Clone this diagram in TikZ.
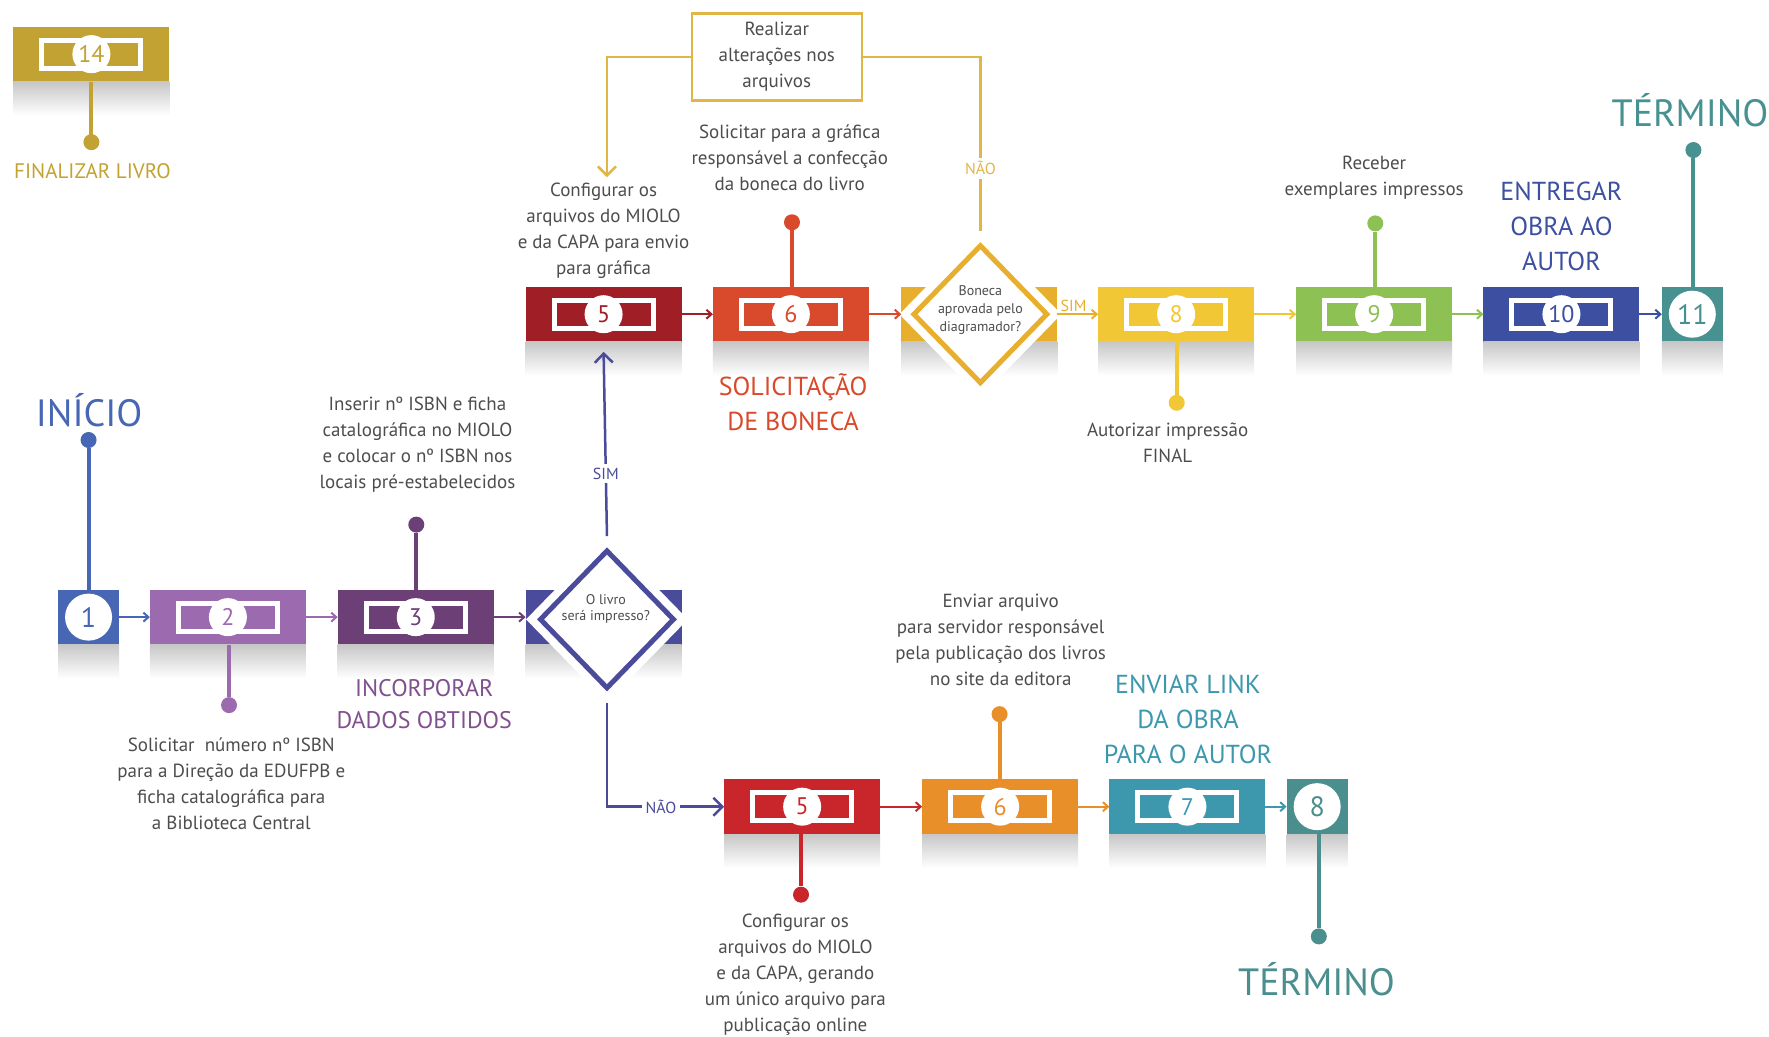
\documentclass[tikz,border=0pt]{standalone}
\usepackage{fontspec}
\setmainfont{PT Sans}
\usetikzlibrary{shapes.geometric,arrows.meta,calc}
\definecolor{cfive}{HTML}{A01E25}
\definecolor{csix}{HTML}{D9492B}
\definecolor{cdtwo}{HTML}{E8AF2E}
\definecolor{ceight}{HTML}{F2C736}
\definecolor{cnine}{HTML}{8DC153}
\definecolor{cten}{HTML}{3D4FA1}
\definecolor{celeven}{HTML}{489191}
\definecolor{cone}{HTML}{4766B3}
\definecolor{ctwo}{HTML}{9C6AAF}
\definecolor{cthree}{HTML}{6D3F77}
\definecolor{cdone}{HTML}{4A4B9B}
\definecolor{cfivel}{HTML}{C9262C}
\definecolor{csixl}{HTML}{E88F2A}
\definecolor{csevenl}{HTML}{3D98AD}
\definecolor{ceightl}{HTML}{4B8E8E}
\definecolor{cfourteen}{HTML}{C2A232}
\definecolor{cgold}{HTML}{E2B646}
\definecolor{ctxt}{HTML}{4D4D4D}
\definecolor{cincorp}{HTML}{80508F}
\newcommand\stepbox[4]{%
  \node[stepnode, fill=#3] (#1) at (#2) {};
  \shade[top color=black!22, bottom color=white] (#1.south west) rectangle ($(#1.south east)+(0,30)$);
  \node[inrect] at (#1) {};
  \node[numc, text=#3] at (#1) {#4};
}
\newcommand\sqbox[4]{%
  \node[sqnode, fill=#3] (#1) at (#2) {};
  \shade[top color=black!22, bottom color=white] (#1.south west) rectangle ($(#1.south east)+(0,30)$);
  \node[bignumc, text=#3] at (#1) {#4};
}
\newcommand\decision[4]{%
  \node[stepnode, fill=#4] (#1box) at (#2) {};
  \shade[top color=black!22, bottom color=white] (#1box.south west) rectangle ($(#1box.south east)+(0,30)$);
  \node[diamond, fill=white, minimum width=162pt, minimum height=166pt, inner sep=0] (#1) at (#3) {};
  \node[diamond, draw=#4, line width=5pt, minimum width=135pt, minimum height=139pt, inner sep=0] at (#3) {};
}
\begin{document}
\begin{tikzpicture}[x=1.1282pt,y=-1.1282pt,
  stepnode/.style={rectangle, minimum width=156pt, minimum height=55pt, inner sep=0, outer sep=0},
  sqnode/.style={rectangle, minimum width=61pt, minimum height=55pt, inner sep=0, outer sep=0},
  inrect/.style={draw=white, line width=5pt, minimum width=99pt, minimum height=28pt, inner sep=0},
  numc/.style={circle, fill=white, minimum size=38pt, inner sep=0, font=\fontsize{24}{24}\selectfont},
  bignumc/.style={circle, fill=white, minimum size=47pt, inner sep=0, font=\fontsize{28}{28}\selectfont},
  stemdot/.style={circle, minimum size=16pt, inner sep=0},
  stem/.style={line width=4pt},
  flow/.style={line width=2pt, -{Straight Barb[length=5pt,width=9pt]}},
  bigflow/.style={line width=2.5pt, -{Straight Barb[length=9pt,width=18pt]}},
  body/.style={text=ctxt, align=center, font=\fontsize{19}{26}\selectfont, inner sep=1pt},
  dtext/.style={text=ctxt, align=center, font=\fontsize{14}{18}\selectfont, inner sep=0},
  med/.style={align=center, font=\fontsize{26}{35}\selectfont, inner sep=0},
  big/.style={font=\fontsize{38}{38}\selectfont, inner sep=0},
  lbl/.style={fill=white, inner sep=4pt, font=\fontsize{16}{16}\selectfont}
]
\useasboundingbox[fill=white] (0,0) rectangle (1568,919);

% ---------- box 14 ----------
\stepbox{s14}{81,48}{cfourteen}{14}
\node[stemdot, fill=cfourteen] (p14) at (81,126) {};
\draw[stem, cfourteen] (s14.south) -- (s14.south |- p14);
\node[med, text=cfourteen, font=\fontsize{21}{21}\selectfont] (t14) at (82,152) {FINALIZAR LIVRO};

% ---------- upper row ----------
\stepbox{s5u}{535,278.5}{cfive}{5}
\stepbox{s6u}{701,278.5}{csix}{6}
\decision{d2}{868,278.5}{869,278.5}{cdtwo}
\node[dtext] (d2t) at (869,275) {Boneca\\aprovada pelo\\diagramador?};
\stepbox{s8}{1042.5,278.5}{ceight}{8}
\stepbox{s9}{1218,278.5}{cnine}{9}
\stepbox{s10}{1384,278.5}{cten}{10}
\sqbox{s11}{1500,278.5}{celeven}{11}

% ---------- middle row ----------
\sqbox{s1}{78.5,547}{cone}{1}
\stepbox{s2}{202,547}{ctwo}{2}
\stepbox{s3}{368.5,547}{cthree}{3}
\decision{d1}{535,547}{538,549}{cdone}
\node[dtext, font=\fontsize{14}{16}\selectfont] (d1t) at (537,540) {O livro\\será impresso?};

% ---------- lower row ----------
\stepbox{s5l}{711,715}{cfivel}{5}
\stepbox{s6l}{886.5,715}{csixl}{6}
\stepbox{s7l}{1052.5,715}{csevenl}{7}
\sqbox{s8l}{1167.5,715}{ceightl}{8}

% ---------- row arrows ----------
\draw[flow, cfive] (s5u.east) -- (s6u.west);
\draw[flow, csix] (s6u.east) -- (d2box.west);
\draw[flow, cdtwo] (d2box.east) -- node[above=1pt, pos=0.4, text=cdtwo, font=\fontsize{16}{16}\selectfont, inner sep=1pt] {SIM} (s8.west);
\draw[flow, ceight] (s8.east) -- (s9.west);
\draw[flow, cnine] (s9.east) -- (s10.west);
\draw[flow, cten] (s10.east) -- (s11.west);
\draw[flow, cone] (s1.east) -- (s2.west);
\draw[flow, ctwo] (s2.east) -- (s3.west);
\draw[flow, cthree] (s3.east) -- (d1box.west);
\draw[flow, cfivel] (s5l.east) -- (s6l.west);
\draw[flow, csixl] (s6l.east) -- (s7l.west);
\draw[flow, csevenl] (s7l.east) -- (s8l.west);

% ---------- decision branches ----------
\draw[bigflow, cdone] (d1.north) -- node[lbl, pos=0.34, text=cdone] {SIM} ($(s5u.south)+(0,9)$);
\draw[bigflow, cdone] (d1.south) |- node[lbl, pos=0.73, text=cdone] {NÃO} (s5l.west);

% ---------- change loop ----------
\node[body, draw=cgold, line width=2.5pt, minimum width=170pt, minimum height=87pt] (rz) at (688.5,50.5) {Realizar\\alterações nos\\arquivos};
\node[body] (cfg5u) at (535,204.5) {Configurar os\\arquivos do MIOLO\\e da CAPA para envio\\para gráfica};
\draw[bigflow, cgold] (rz.west) -| ($(cfg5u.north)+(3,-4)$);
\draw[line width=2.5pt, cgold] (rz.east) -| node[lbl, pos=0.82, text=cgold] {NÃO} (d2.north);

% ---------- stems and labels ----------
\node[stemdot, fill=csix] (p6u) at (702,197) {};
\draw[stem, csix] (p6u) -- (p6u |- s6u.north);
\node[body] (t6u) at (700,140) {Solicitar para a gráfica\\responsável a confecção\\da boneca do livro};
\node[med, text=csix] (tsol) at (703,356.5) {SOLICITAÇÃO\\DE BONECA};

\node[stemdot, fill=ceight] (p8) at (1043,357) {};
\draw[stem, ceight] (p8 |- s8.south) -- (p8);
\node[body] (t8) at (1035,392.5) {Autorizar impressão\\FINAL};

\node[stemdot, fill=cnine] (p9) at (1219,198) {};
\draw[stem, cnine] (p9) -- (p9 |- s9.north);
\node[body] (t9) at (1218,157.5) {Receber\\exemplares impressos};

\node[med, text=cten] (t10) at (1384,201) {ENTREGAR\\OBRA AO\\AUTOR};

\node[stemdot, fill=celeven] (p11) at (1501,133) {};
\draw[stem, celeven] (p11) -- (p11 |- s11.north);
\node[big, text=celeven] (fim1) at (1498,98) {TÉRMINO};

\node[stemdot, fill=cone] (p1) at (78.5,390) {};
\draw[stem, cone] (p1) -- (p1 |- s1.north);
\node[big, text=cone] (ini) at (79,364) {INÍCIO};

\node[stemdot, fill=ctwo] (p2) at (203,625) {};
\draw[stem, ctwo] (p2 |- s2.south) -- (p2);
\node[body] (t2) at (205,694.5) {Solicitar \ número nº ISBN\\para a Direção da EDUFPB e\\ficha catalográfica para\\a Biblioteca Central};

\node[stemdot, fill=cthree] (p3) at (369,465) {};
\draw[stem, cthree] (p3) -- (p3 |- s3.north);
\node[body] (t3) at (370,394.5) {Inserir nº ISBN e ficha\\catalográfica no MIOLO\\e colocar o nº ISBN nos\\locais pré-estabelecidos};
\node[med, text=cincorp, font=\fontsize{24}{31.5}\selectfont] (tinc) at (376,624) {INCORPORAR\\DADOS OBTIDOS};

\node[stemdot, fill=cfivel] (p5l) at (710,793) {};
\draw[stem, cfivel] (p5l |- s5l.south) -- (p5l);
\node[body] (t5l) at (705,864) {Configurar os\\arquivos do MIOLO\\e da CAPA, gerando\\um único arquivo para\\publicação online};

\node[stemdot, fill=csixl] (p6l) at (886,633) {};
\draw[stem, csixl] (p6l) -- (p6l |- s6l.north);
\node[body] (t6l) at (887,567.5) {Enviar arquivo\\para servidor responsável\\pela publicação dos livros\\no site da editora};

\node[med, text=csevenl] (t7l) at (1053,638) {ENVIAR LINK\\DA OBRA\\PARA O AUTOR};

\node[stemdot, fill=ceightl] (p8l) at (1169,830) {};
\draw[stem, ceightl] (p8l |- s8l.south) -- (p8l);
\node[big, text=ceightl] (fim2) at (1167,868) {TÉRMINO};
\end{tikzpicture}
\end{document}
